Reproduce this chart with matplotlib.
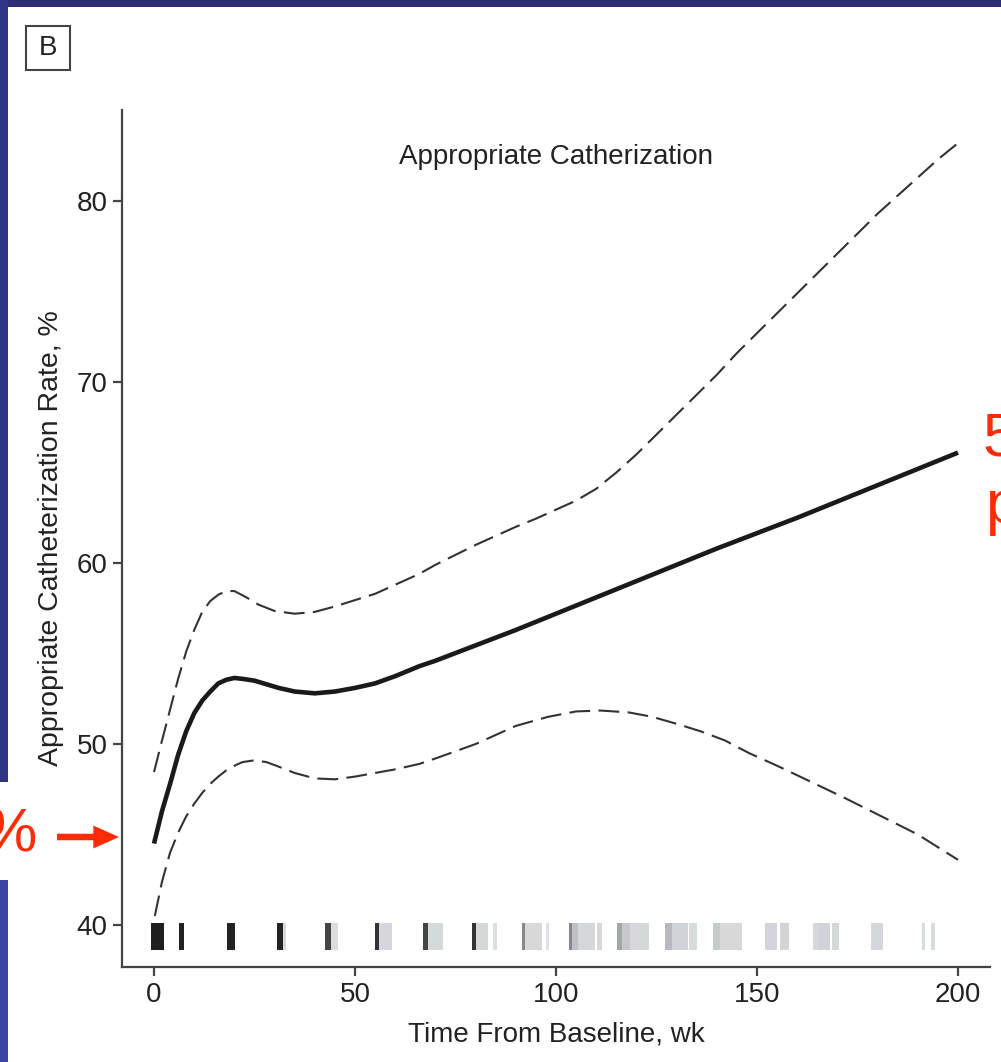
import matplotlib
matplotlib.use("Agg")
import matplotlib.pyplot as plt
from matplotlib.patches import Rectangle, FancyArrowPatch, ArrowStyle

# fitted rate and 95% band
WEEKS = [0, 2, 4, 6, 8, 10, 12, 14, 16, 18, 20, 22, 25, 28, 31, 35, 40, 45, 50,
         55, 60, 66, 70, 80, 90, 100, 110, 120, 130, 140, 150, 160, 170, 180, 190, 200]
RATE = [44.5, 46.3, 47.8, 49.4, 50.7, 51.7, 52.4, 52.9, 53.35, 53.55, 53.65, 53.6,
        53.5, 53.3, 53.1, 52.9, 52.8, 52.9, 53.1, 53.35, 53.75, 54.3, 54.6, 55.45,
        56.3, 57.2, 58.1, 59.0, 59.9, 60.8, 61.65, 62.5, 63.4, 64.3, 65.2, 66.1]

UP_WEEKS = [0, 2, 4, 6, 8, 10, 12, 14, 16, 18, 20, 23, 26, 30, 35, 40, 45, 50, 55,
            60, 66, 70, 80, 86, 90, 95, 100, 105, 110, 115, 120, 125, 130, 135, 140,
            145, 150, 155, 160, 165, 170, 175, 180, 185, 190, 195, 200]
UPPER = [48.45, 50.2, 51.9, 53.6, 55.1, 56.3, 57.3, 57.9, 58.25, 58.45, 58.45, 58.1,
         57.7, 57.35, 57.2, 57.3, 57.6, 57.95, 58.3, 58.8, 59.4, 59.9, 61.0, 61.6,
         62.0, 62.45, 62.95, 63.45, 64.1, 65.0, 66.0, 67.1, 68.2, 69.3, 70.4, 71.6,
         72.7, 73.8, 74.9, 76.0, 77.1, 78.2, 79.3, 80.3, 81.3, 82.3, 83.2]

LO_WEEKS = [0.2, 2, 4, 6, 8, 10, 12, 14, 16, 18, 20, 22, 25, 28, 31, 35, 40, 45, 50,
            55, 60, 66, 70, 80, 86, 90, 98, 105, 111, 118, 124, 131, 136, 142, 148,
            155, 164, 172, 181, 190, 200]
LOWER = [40.5, 42.4, 44.0, 45.1, 46.0, 46.7, 47.3, 47.8, 48.2, 48.55, 48.8, 49.0,
         49.1, 49.0, 48.75, 48.4, 48.1, 48.05, 48.2, 48.4, 48.6, 48.9, 49.2, 50.0,
         50.6, 51.0, 51.5, 51.8, 51.85, 51.75, 51.5, 51.05, 50.7, 50.2, 49.5, 48.8,
         47.85, 47.0, 46.0, 45.0, 43.6]

# rug of observation times (start, end, shade)
RUG_START = [-0.75, 6.2, 18.1, 30.5, 32.0, 42.5, 44.0, 55.0, 56.0, 67.0, 68.2,
             79.0, 80.2, 84.4, 91.5, 92.3, 97.5, 103.2, 103.9, 105.5, 110.1,
             115.2, 116.3, 118.4, 120.2, 127.1, 128.8, 133.2, 139.1, 140.8,
             152.0, 155.7, 164.0, 165.2, 168.6, 178.3, 191.1, 193.4]
RUG_END = [2.5, 7.5, 20.1, 32.0, 32.8, 44.0, 45.8, 56.0, 59.1, 68.2, 72.0,
           80.2, 83.2, 85.2, 92.3, 96.4, 98.3, 103.9, 105.5, 109.7, 111.5,
           116.3, 118.4, 120.1, 123.1, 128.8, 132.9, 135.0, 140.8, 146.2,
           154.9, 158.0, 165.2, 168.2, 170.5, 181.4, 191.9, 194.3]
RUG_SHADE = ['#1e1e1e', '#222222', '#222222', '#222222', '#d8d8e0', '#444444',
             '#dddddd', '#333333', '#d6d6de', '#444444', '#d4dada', '#333333',
             '#d4d8d8', '#d8e0e0', '#888888', '#d8d8d8', '#dde0e4', '#888888',
             '#c0c0c8', '#d4d8d8', '#d8d8d8', '#a0a8a8', '#c8c8cc', '#d8d8dc',
             '#d4d8d8', '#b8b8c0', '#d0d4d8', '#d4dcdc', '#c4ccc8', '#d8d8d8',
             '#d4d4dc', '#d4d4d4', '#d8d8dc', '#d0d4d8', '#d4d8d8', '#d4d8dc',
             '#d4dcdc', '#d4dcdc']

XTICKS = [0, 50, 100, 150, 200]
YTICKS = [40, 50, 60, 70, 80]

SANS = ['Liberation Sans', 'DejaVu Sans']
INK = '#222222'
RED = '#ff2b06'

W, H = 1001, 1062
fig = plt.figure(figsize=(W / 100, H / 100), dpi=100)
fig.patch.set_facecolor('white')

def px(x0, y0, w, h):
    # pixel box (top-left origin) -> figure fraction
    return (x0 / W, 1 - (y0 + h) / H), w / W, h / H

# slide background strips
for (x0, y0, w, h), col in [((0, 0, W, 7), '#2b2e77'),
                             ((0, 0, 8, 782), '#2f3484'),
                             ((0, 880, 8, H - 880), '#3c45a0')]:
    xy, ww, hh = px(x0, y0, w, h)
    fig.add_artist(Rectangle(xy, ww, hh, transform=fig.transFigure,
                             facecolor=col, edgecolor='none', zorder=0))

# panel letter
xy, ww, hh = px(26, 26, 44, 44)
fig.add_artist(Rectangle(xy, ww, hh, transform=fig.transFigure,
                         facecolor='white', edgecolor='#444444', lw=1.5))
fig.text(48 / W, 1 - 48 / H, 'B', ha='center', va='center', fontsize=20,
         color=INK, family=SANS)

ax = fig.add_axes([122 / W, 1 - 967 / H, (990 - 122) / W, (967 - 110) / H])
ax.set_xlim(-7.96, 207.96)
ax.set_ylim(37.68, 85.03)
for s in ['top', 'right']:
    ax.spines[s].set_visible(False)
for s in ['left', 'bottom']:
    ax.spines[s].set_color('#444444')
    ax.spines[s].set_linewidth(1.6)

ax.set_xticks(XTICKS)
ax.set_yticks(YTICKS)
ax.tick_params(length=6.5, width=1.6, color='#444444', labelsize=20,
               labelcolor=INK, pad=4)
for lab in ax.get_xticklabels() + ax.get_yticklabels():
    lab.set_family(SANS)

ax.bar(RUG_START, 1.51, width=[e - s for s, e in zip(RUG_START, RUG_END)],
       bottom=38.62, align='edge', color=RUG_SHADE, linewidth=0, zorder=2)

ax.plot(UP_WEEKS, UPPER, color='#333333', lw=1.5, ls=(0, (10, 4)), zorder=3)
ax.plot(LO_WEEKS, LOWER, color='#333333', lw=1.5, ls=(0, (10, 4)), zorder=3)
ax.plot(WEEKS, RATE, color='#1a1a1a', lw=3.3, solid_capstyle='butt', zorder=4)

ax.text(100, 82.45, 'Appropriate Catherization', ha='center', va='center',
        fontsize=20, color=INK, family=SANS)
ax.set_xlabel('Time From Baseline, wk', fontsize=20, color=INK, family=SANS)
ax.set_ylabel('Appropriate Catheterization Rate, %', fontsize=20.5, color=INK,
              family=SANS)
ax.xaxis.set_label_coords(0.5, -0.064)
ax.yaxis.set_label_coords(-0.0668, 0.5)

# slide annotations in red, cut off at the figure edges as in the slide
fig.text(37 / W, 1 - 836 / H, '%', ha='right', va='center', fontsize=44,
         color=RED, family=SANS)
fig.add_artist(FancyArrowPatch((57 / W, 1 - 837 / H), (119 / W, 1 - 837 / H),
                               transform=fig.transFigure,
                               arrowstyle=ArrowStyle.Simple(head_length=18.5,
                                                            head_width=16.5,
                                                            tail_width=4.7),
                               mutation_scale=1, color=RED, lw=0,
                               shrinkA=0, shrinkB=0))
fig.text(983 / W, 1 - 440 / H, '5', ha='left', va='center', fontsize=44,
         color=RED, family=SANS)
fig.text(985 / W, 1 - 508 / H, 'p', ha='left', va='center', fontsize=44,
         color=RED, family=SANS)

fig.savefig('out.png', dpi=100, facecolor='white')
